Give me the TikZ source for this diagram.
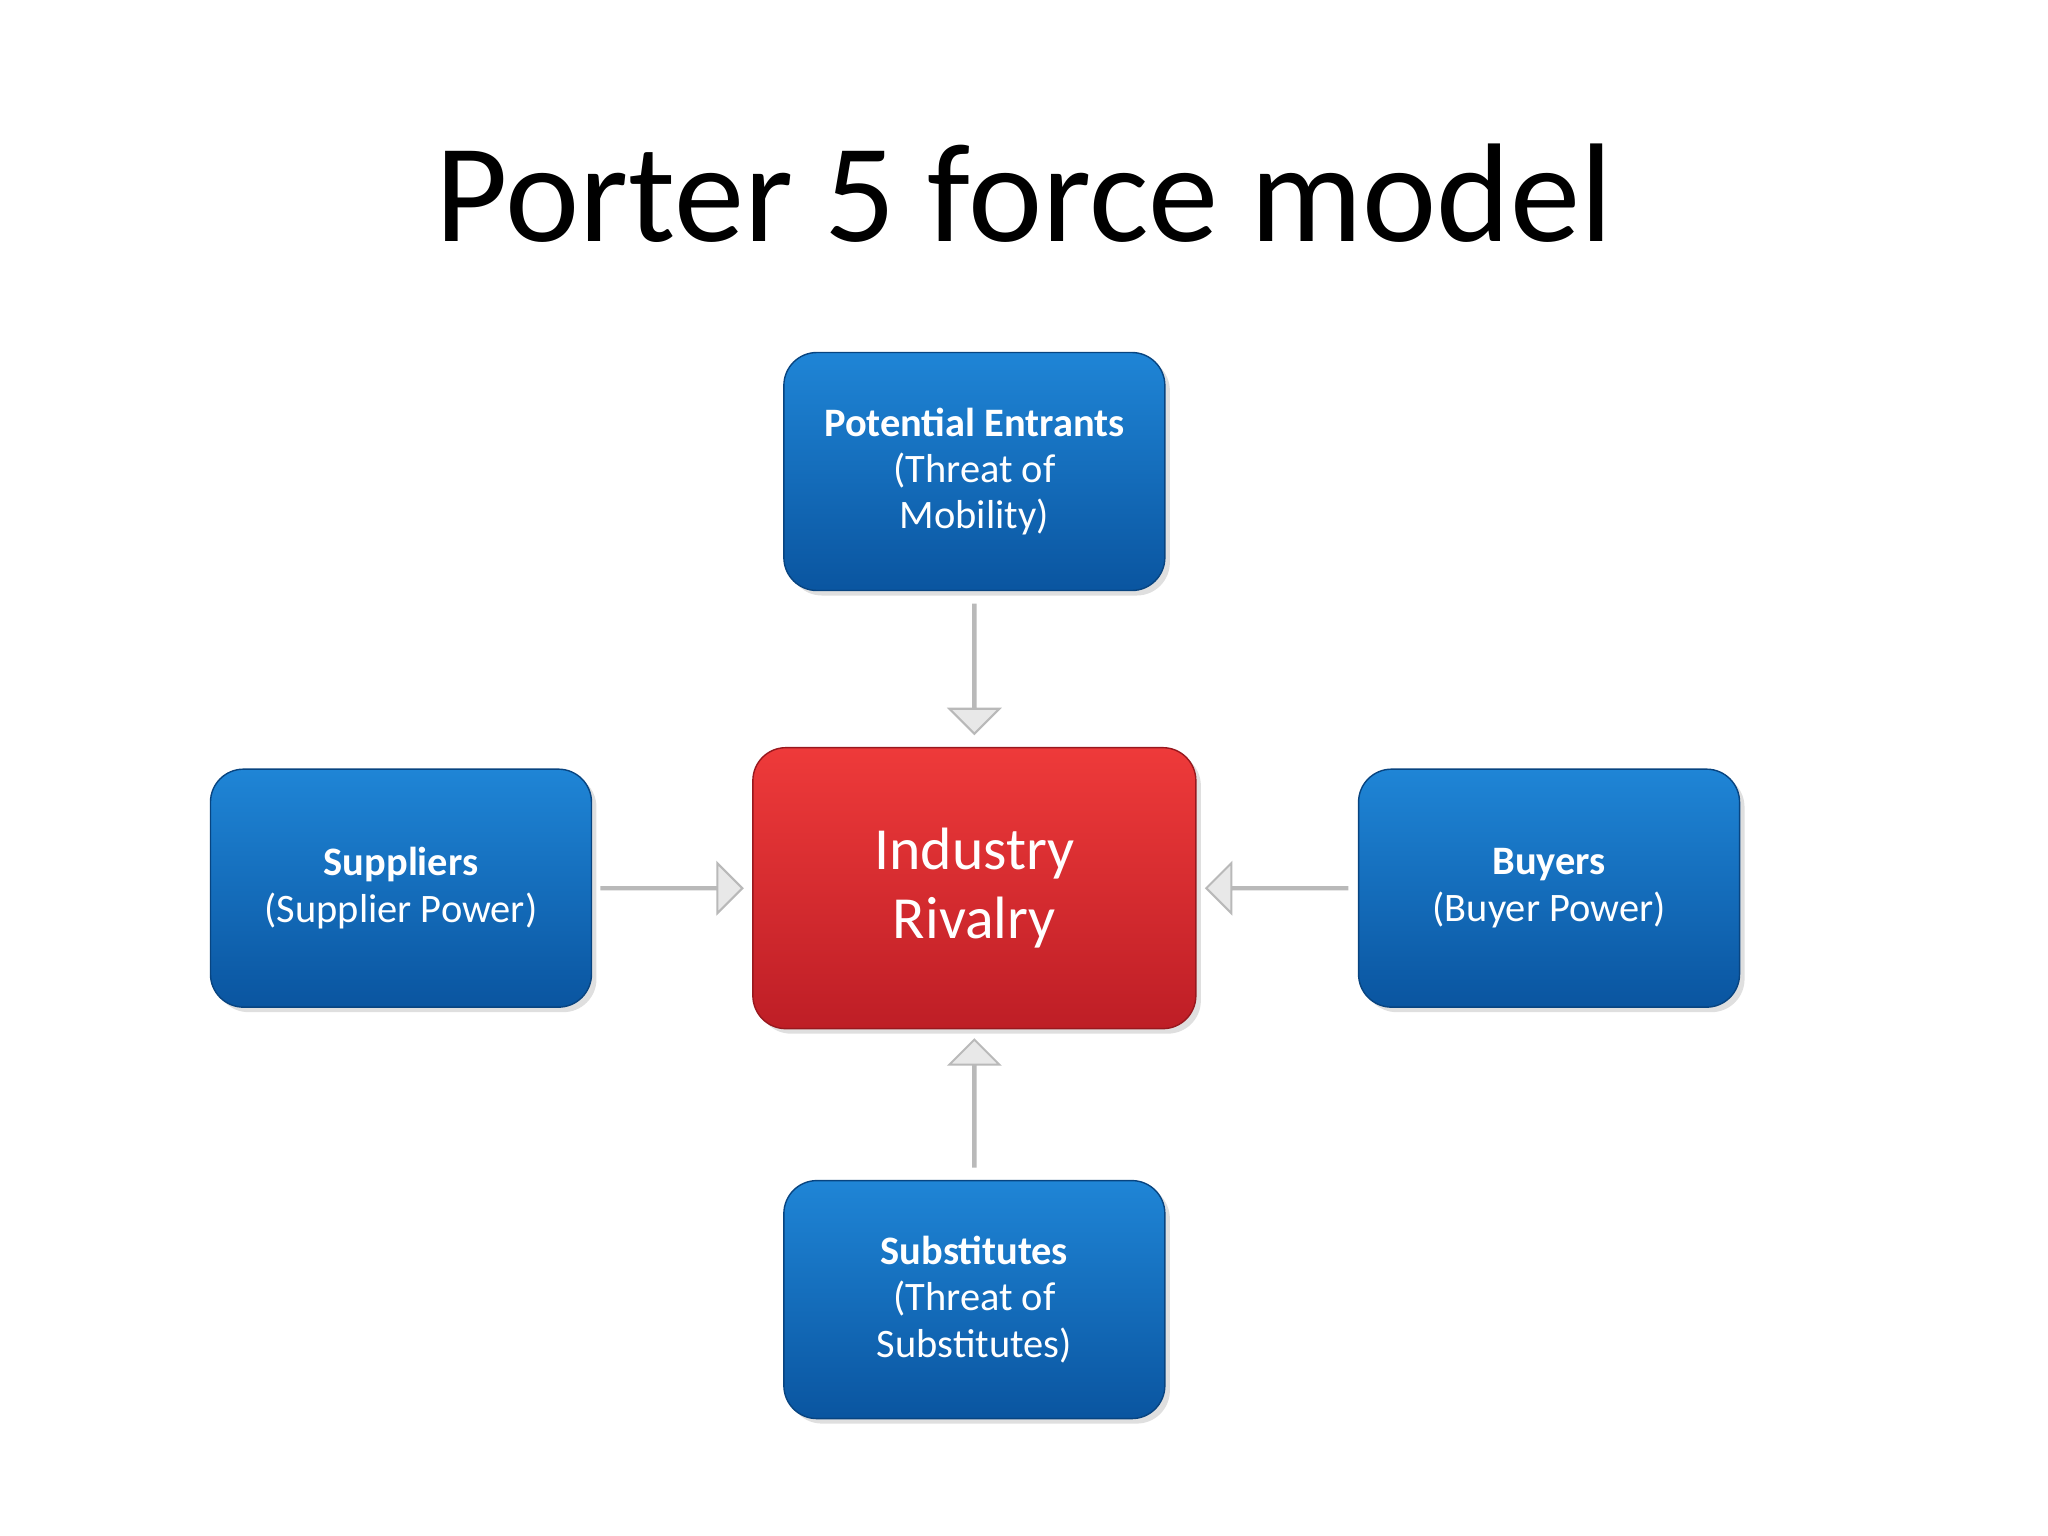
\documentclass[tikz,border=0pt]{standalone}
\usepackage{fontspec}
\setmainfont{Carlito}
\usetikzlibrary{shapes.arrows,shadows}
\definecolor{bt}{HTML}{1F85D6}
\definecolor{bb}{HTML}{0A55A0}
\definecolor{rt}{HTML}{EE3A3A}
\definecolor{rb}{HTML}{BE1E26}
\begin{document}
\begin{tikzpicture}[x=0.01306cm,y=-0.01306cm,
  box/.style={rounded corners=0.33cm,minimum width=3.81cm,minimum height=2.38cm,
    top color=bt,bottom color=bb,draw=bb!80!black,line width=0.4pt,text=white,
    align=center,font=\fontsize{11.5}{13.2}\selectfont,
    drop shadow={shadow xshift=0.05cm,shadow yshift=-0.05cm,opacity=0.25}},
  arr/.style={single arrow,fill=gray!18,draw=gray!55,line width=0.6pt,inner sep=0pt,
    minimum width=0.5cm,single arrow head extend=0.23cm,single arrow head indent=0pt}]
\useasboundingbox (0,0) rectangle (1568,1176);
\node[font=\fontsize{40}{48}\selectfont] (title) at (784,148) {Porter 5 force model};
\node[box] (pe) at (746,361) {\textbf{Potential Entrants}\\(Threat of\\Mobility)};
\node[box] (sup) at (307,680) {\textbf{Suppliers}\\(Supplier Power)};
\node[box] (buy) at (1186,680) {\textbf{Buyers}\\(Buyer Power)};
\node[box] (sub) at (746,995) {\textbf{Substitutes}\\(Threat of\\Substitutes)};
\node[box,top color=rt,bottom color=rb,draw=rb!80!black,minimum width=4.43cm,minimum height=2.81cm,
  font=\fontsize{17}{19.8}\selectfont] (ind) at (746,680) {Industry\\Rivalry};
\node[arr,shape border rotate=270,minimum height=1.29cm] (a1) at (746,512) {};
\node[arr,shape border rotate=0,minimum height=1.41cm] (a2) at (514,680) {};
\node[arr,shape border rotate=180,minimum height=1.41cm] (a3) at (978,680) {};
\node[arr,shape border rotate=90,minimum height=1.27cm] (a4) at (746,845) {};
\end{tikzpicture}
\end{document}
